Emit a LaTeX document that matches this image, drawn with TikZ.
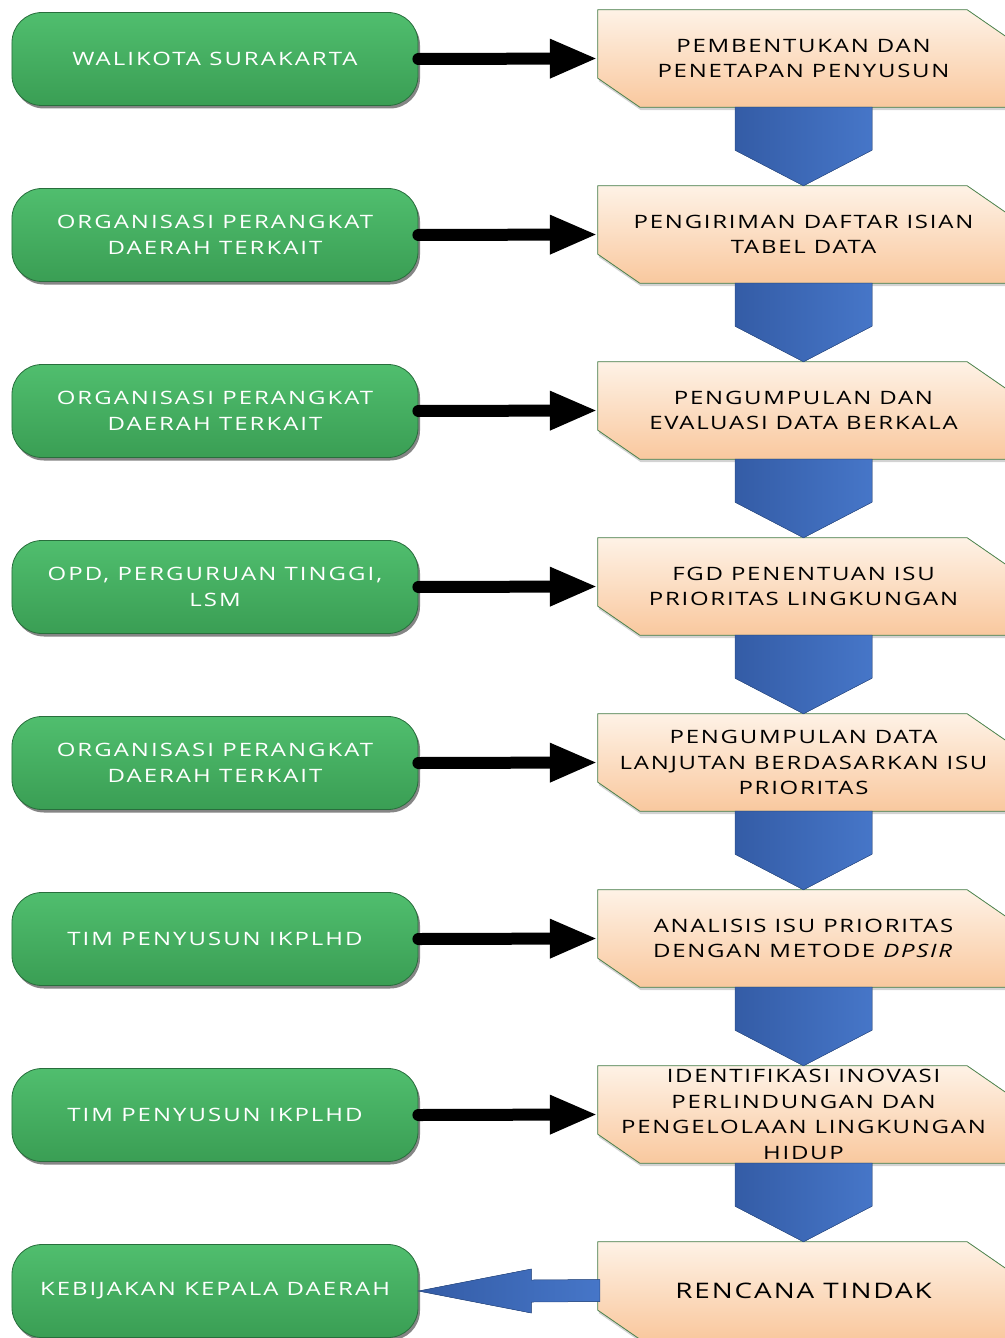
\documentclass[tikz,border=0pt]{standalone}
\usepackage{fontspec}
\setmainfont{Open Sans}
\newfontfamily\gfont[FakeStretch=1.3,LetterSpace=11]{Open Sans}
\newfontfamily\ofont[FakeStretch=1.3,LetterSpace=9.5]{Open Sans}
\newfontfamily\rfont[FakeStretch=1.3,LetterSpace=9]{Open Sans}
\usetikzlibrary{arrows.meta,shadows,calc,backgrounds}
\definecolor{gtop}{RGB}{80,190,110}
\definecolor{gbot}{RGB}{58,158,84}
\definecolor{gline}{RGB}{40,110,60}
\definecolor{otop}{RGB}{254,242,230}
\definecolor{obot}{RGB}{249,200,158}
\definecolor{oline}{RGB}{80,135,80}
\definecolor{bleft}{RGB}{52,92,166}
\definecolor{bright}{RGB}{70,118,200}
\definecolor{bline}{RGB}{45,80,140}
\tikzset{
  gbox/.style={rounded corners=30bp, minimum width=406bp, minimum height=93bp,
    top color=gtop, bottom color=gbot, draw=gline, line width=0.8bp,
    drop shadow={shadow xshift=2bp, shadow yshift=-3bp, opacity=0.6, fill=black!80},
    text=white, align=center, inner sep=0pt, font=\gfont\fontsize{18.5}{26}\selectfont},
  obox/.style={minimum width=411bp, minimum height=97bp, inner sep=0pt, align=center,
    font=\ofont\fontsize{18.5}{25.5}\selectfont},
  ofill/.style={top color=otop, bottom color=obot, draw=oline, line width=0.8bp,
    drop shadow={shadow xshift=1bp, shadow yshift=-3bp, opacity=0.35}},
  bfill/.style={left color=bleft, right color=bright, draw=bline, line width=0.5bp},
  blk/.style={line width=12bp, line cap=round, -{Triangle[length=48bp,width=36bp]}}
}
\newcommand\orangeshape[1]{%
  \fill[ofill] (#1.north west) -- ($(#1.north east)+(-42,0)$) -- ($(#1.north east)+(0,29)$)
    -- (#1.south east) -- ($(#1.south west)+(42,0)$) -- ($(#1.south west)+(0,-29)$) -- cycle;}
\newcommand\bluedown[2]{%
  \fill[bfill] ($(#1.south)+(-68.5,0)$) -- ($(#1.south)+(-68.5,43)$) -- (#2.north)
    -- ($(#1.south)+(68.5,43)$) -- ($(#1.south)+(68.5,0)$) -- cycle;}
\begin{document}
\begin{tikzpicture}[x=1bp,y=-1bp]
\useasboundingbox (0,0) rectangle (1004,1338);
% green nodes
\node[gbox] (g1) at (215,59) {WALIKOTA SURAKARTA};
\node[gbox] (g2) at (215,235) {ORGANISASI PERANGKAT\\DAERAH TERKAIT};
\node[gbox] (g3) at (215,411) {ORGANISASI PERANGKAT\\DAERAH TERKAIT};
\node[gbox] (g4) at (215,587) {OPD, PERGURUAN TINGGI,\\LSM};
\node[gbox] (g5) at (215,763) {ORGANISASI PERANGKAT\\DAERAH TERKAIT};
\node[gbox] (g6) at (215,939) {TIM PENYUSUN IKPLHD};
\node[gbox] (g7) at (215,1115) {TIM PENYUSUN IKPLHD};
\node[gbox] (g8) at (215,1291) {KEBIJAKAN KEPALA DAERAH};
% orange nodes
\node[obox] (o1) at (803.5,58.5) {PEMBENTUKAN DAN\\PENETAPAN PENYUSUN};
\node[obox] (o2) at (803.5,234.5) {PENGIRIMAN DAFTAR ISIAN\\TABEL DATA};
\node[obox] (o3) at (803.5,410.5) {PENGUMPULAN DAN\\EVALUASI DATA BERKALA};
\node[obox] (o4) at (803.5,586.5) {FGD PENENTUAN ISU\\PRIORITAS LINGKUNGAN};
\node[obox] (o5) at (803.5,762.5) {PENGUMPULAN DATA\\LANJUTAN BERDASARKAN ISU\\PRIORITAS};
\node[obox] (o6) at (803.5,938.5) {ANALISIS ISU PRIORITAS\\DENGAN METODE \textit{DPSIR}};
\node[obox] (o7) at (803.5,1114.5) {IDENTIFIKASI INOVASI\\PERLINDUNGAN DAN\\PENGELOLAAN LINGKUNGAN\\HIDUP};
\node[obox, font=\rfont\fontsize{21.5}{28}\selectfont] (o8) at (803.5,1290.5) {RENCANA TINDAK};
\begin{scope}[on background layer]
\foreach \n in {o1,o2,o3,o4,o5,o6,o7,o8} {\orangeshape{\n}}
\end{scope}
% blue down arrows
\bluedown{o1}{o2}
\bluedown{o2}{o3}
\bluedown{o3}{o4}
\bluedown{o4}{o5}
\bluedown{o5}{o6}
\bluedown{o6}{o7}
\bluedown{o7}{o8}
% black arrows
\foreach \i in {1,...,7} {\draw[blk] (g\i.east) -- (o\i.west);}
% bottom blue left arrow
\fill[bfill] ($(o8.west)+(2,-11)$) -- ($(g8.east)+(113,-11)$) -- ($(g8.east)+(113,-22)$)
  -- (g8.east) -- ($(g8.east)+(113,22)$) -- ($(g8.east)+(113,11)$) -- ($(o8.west)+(2,11)$) -- cycle;
\end{tikzpicture}
\end{document}
